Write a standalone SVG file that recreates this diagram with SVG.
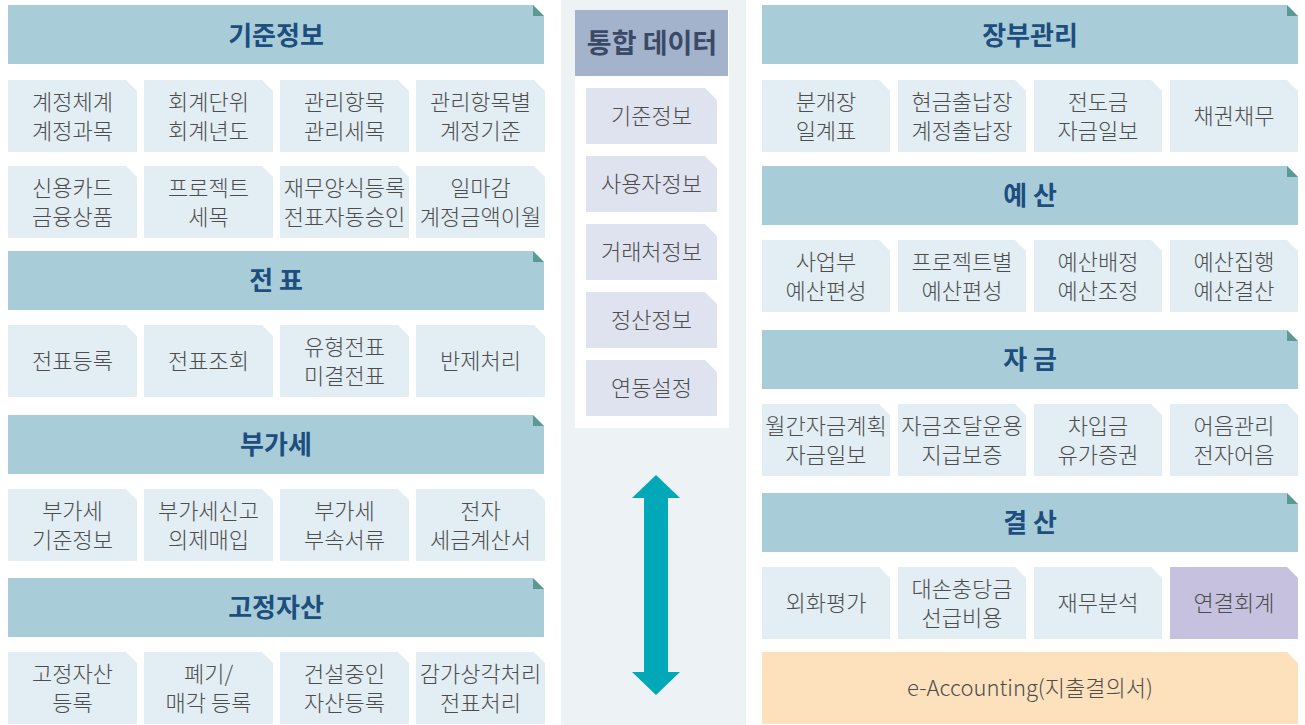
<svg xmlns="http://www.w3.org/2000/svg" width="1305" height="725" viewBox="0 0 1305 725">
<style>
.hd{fill:#a9cdd8}
.fold{fill:#5b9a92}
.bx{fill:#e2eef3}
.mi{fill:#dfe3ef}
.ht{font-family:"Noto Sans CJK KR","Noto Sans",sans-serif;font-size:26px;font-weight:700;fill:#1d4e7e;text-anchor:middle}
.t{font-family:"Noto Sans CJK KR","Noto Sans",sans-serif;font-size:22px;font-weight:300;fill:#4d4d4d;text-anchor:middle}
</style>
<rect width="1305" height="725" fill="#ffffff"/>
<rect x="561" y="0" width="185" height="725" fill="#edf2f5"/>
<rect x="575" y="10" width="154" height="418" fill="#ffffff"/>

<!-- Left column -->
<g id="h-gijun"><polygon class="hd" points="8,5 533,5 544,16 544,64 8,64"/><polygon class="fold" points="533,5 544,16 533,16"/><text class="ht" x="276" y="45">기준정보</text></g>
<g id="n-l1"><polygon class="bx" points="8,80 126,80 137,91 137,152 8,152"/><text class="t" x="72.5" y="109.5">계정체계</text><text class="t" x="72.5" y="138.5">계정과목</text></g>
<g id="n-l2"><polygon class="bx" points="144,80 262,80 273,91 273,152 144,152"/><text class="t" x="208.5" y="109.5">회계단위</text><text class="t" x="208.5" y="138.5">회계년도</text></g>
<g id="n-l3"><polygon class="bx" points="280,80 398,80 409,91 409,152 280,152"/><text class="t" x="344.5" y="109.5">관리항목</text><text class="t" x="344.5" y="138.5">관리세목</text></g>
<g id="n-l4"><polygon class="bx" points="416,80 534,80 545,91 545,152 416,152"/><text class="t" x="480.5" y="109.5">관리항목별</text><text class="t" x="480.5" y="138.5">계정기준</text></g>
<g id="n-l5"><polygon class="bx" points="8,166 126,166 137,177 137,238 8,238"/><text class="t" x="72.5" y="195.5">신용카드</text><text class="t" x="72.5" y="224.5">금융상품</text></g>
<g id="n-l6"><polygon class="bx" points="144,166 262,166 273,177 273,238 144,238"/><text class="t" x="208.5" y="195.5">프로젝트</text><text class="t" x="208.5" y="224.5">세목</text></g>
<g id="n-l7"><polygon class="bx" points="280,166 398,166 409,177 409,238 280,238"/><text class="t" x="344.5" y="195.5">재무양식등록</text><text class="t" x="344.5" y="224.5">전표자동승인</text></g>
<g id="n-l8"><polygon class="bx" points="416,166 534,166 545,177 545,238 416,238"/><text class="t" x="480.5" y="195.5">일마감</text><text class="t" x="480.5" y="224.5">계정금액이월</text></g>

<g id="h-jeonpyo"><polygon class="hd" points="8,251 533,251 544,262 544,310 8,310"/><polygon class="fold" points="533,251 544,262 533,262"/><text class="ht" x="276" y="290">전 표</text></g>
<g id="n-l9"><polygon class="bx" points="8,325 126,325 137,336 137,397 8,397"/><text class="t" x="72.5" y="369">전표등록</text></g>
<g id="n-l10"><polygon class="bx" points="144,325 262,325 273,336 273,397 144,397"/><text class="t" x="208.5" y="369">전표조회</text></g>
<g id="n-l11"><polygon class="bx" points="280,325 398,325 409,336 409,397 280,397"/><text class="t" x="344.5" y="354.5">유형전표</text><text class="t" x="344.5" y="383.5">미결전표</text></g>
<g id="n-l12"><polygon class="bx" points="416,325 534,325 545,336 545,397 416,397"/><text class="t" x="480.5" y="369">반제처리</text></g>

<g id="h-vat"><polygon class="hd" points="8,415 533,415 544,426 544,474 8,474"/><polygon class="fold" points="533,415 544,426 533,426"/><text class="ht" x="276" y="454">부가세</text></g>
<g id="n-l13"><polygon class="bx" points="8,489 126,489 137,500 137,561 8,561"/><text class="t" x="72.5" y="518.5">부가세</text><text class="t" x="72.5" y="547.5">기준정보</text></g>
<g id="n-l14"><polygon class="bx" points="144,489 262,489 273,500 273,561 144,561"/><text class="t" x="208.5" y="518.5">부가세신고</text><text class="t" x="208.5" y="547.5">의제매입</text></g>
<g id="n-l15"><polygon class="bx" points="280,489 398,489 409,500 409,561 280,561"/><text class="t" x="344.5" y="518.5">부가세</text><text class="t" x="344.5" y="547.5">부속서류</text></g>
<g id="n-l16"><polygon class="bx" points="416,489 534,489 545,500 545,561 416,561"/><text class="t" x="480.5" y="518.5">전자</text><text class="t" x="480.5" y="547.5">세금계산서</text></g>

<g id="h-asset"><polygon class="hd" points="8,578 533,578 544,589 544,637 8,637"/><polygon class="fold" points="533,578 544,589 533,589"/><text class="ht" x="276" y="617">고정자산</text></g>
<g id="n-l17"><polygon class="bx" points="8,652 126,652 137,663 137,724 8,724"/><text class="t" x="72.5" y="681.5">고정자산</text><text class="t" x="72.5" y="710.5">등록</text></g>
<g id="n-l18"><polygon class="bx" points="144,652 262,652 273,663 273,724 144,724"/><text class="t" x="208.5" y="681.5">폐기/</text><text class="t" x="208.5" y="710.5">매각 등록</text></g>
<g id="n-l19"><polygon class="bx" points="280,652 398,652 409,663 409,724 280,724"/><text class="t" x="344.5" y="681.5">건설중인</text><text class="t" x="344.5" y="710.5">자산등록</text></g>
<g id="n-l20"><polygon class="bx" points="416,652 534,652 545,663 545,724 416,724"/><text class="t" x="480.5" y="681.5">감가상각처리</text><text class="t" x="480.5" y="710.5">전표처리</text></g>

<!-- Middle column -->
<g id="h-integrated"><rect x="575" y="10" width="153" height="66" fill="#a3b3cc"/><text x="652" y="53" font-family="&quot;Noto Sans CJK KR&quot;,&quot;Noto Sans&quot;,sans-serif" font-size="27" font-weight="700" fill="#3a4a66" text-anchor="middle">통합 데이터</text></g>
<g id="n-m1"><polygon class="mi" points="586,88 705,88 717,100 717,144 586,144"/><text class="t" x="651.5" y="124">기준정보</text></g>
<g id="n-m2"><polygon class="mi" points="586,156 705,156 717,168 717,212 586,212"/><text class="t" x="651.5" y="192">사용자정보</text></g>
<g id="n-m3"><polygon class="mi" points="586,224 705,224 717,236 717,280 586,280"/><text class="t" x="651.5" y="260">거래처정보</text></g>
<g id="n-m4"><polygon class="mi" points="586,292 705,292 717,304 717,348 586,348"/><text class="t" x="651.5" y="328">정산정보</text></g>
<g id="n-m5"><polygon class="mi" points="586,360 705,360 717,372 717,416 586,416"/><text class="t" x="651.5" y="396">연동설정</text></g>

<!-- Right column -->
<g id="h-ledger"><polygon class="hd" points="762,5 1287,5 1298,16 1298,64 762,64"/><polygon class="fold" points="1287,5 1298,16 1287,16"/><text class="ht" x="1030" y="45">장부관리</text></g>
<g id="n-r1"><polygon class="bx" points="762,80 879,80 890,91 890,152 762,152"/><text class="t" x="826" y="109.5">분개장</text><text class="t" x="826" y="138.5">일계표</text></g>
<g id="n-r2"><polygon class="bx" points="898,80 1015,80 1026,91 1026,152 898,152"/><text class="t" x="962" y="109.5">현금출납장</text><text class="t" x="962" y="138.5">계정출납장</text></g>
<g id="n-r3"><polygon class="bx" points="1034,80 1151,80 1162,91 1162,152 1034,152"/><text class="t" x="1098" y="109.5">전도금</text><text class="t" x="1098" y="138.5">자금일보</text></g>
<g id="n-r4"><polygon class="bx" points="1170,80 1287,80 1298,91 1298,152 1170,152"/><text class="t" x="1234" y="124">채권채무</text></g>

<g id="h-budget"><polygon class="hd" points="762,166 1287,166 1298,177 1298,225 762,225"/><polygon class="fold" points="1287,166 1298,177 1287,177"/><text class="ht" x="1030" y="205">예 산</text></g>
<g id="n-r5"><polygon class="bx" points="762,240 879,240 890,251 890,312 762,312"/><text class="t" x="826" y="269.5">사업부</text><text class="t" x="826" y="298.5">예산편성</text></g>
<g id="n-r6"><polygon class="bx" points="898,240 1015,240 1026,251 1026,312 898,312"/><text class="t" x="962" y="269.5">프로젝트별</text><text class="t" x="962" y="298.5">예산편성</text></g>
<g id="n-r7"><polygon class="bx" points="1034,240 1151,240 1162,251 1162,312 1034,312"/><text class="t" x="1098" y="269.5">예산배정</text><text class="t" x="1098" y="298.5">예산조정</text></g>
<g id="n-r8"><polygon class="bx" points="1170,240 1287,240 1298,251 1298,312 1170,312"/><text class="t" x="1234" y="269.5">예산집행</text><text class="t" x="1234" y="298.5">예산결산</text></g>

<g id="h-fund"><polygon class="hd" points="762,330 1287,330 1298,341 1298,389 762,389"/><polygon class="fold" points="1287,330 1298,341 1287,341"/><text class="ht" x="1030" y="369">자 금</text></g>
<g id="n-r9"><polygon class="bx" points="762,404 879,404 890,415 890,476 762,476"/><text class="t" x="826" y="433.5">월간자금계획</text><text class="t" x="826" y="462.5">자금일보</text></g>
<g id="n-r10"><polygon class="bx" points="898,404 1015,404 1026,415 1026,476 898,476"/><text class="t" x="962" y="433.5">자금조달운용</text><text class="t" x="962" y="462.5">지급보증</text></g>
<g id="n-r11"><polygon class="bx" points="1034,404 1151,404 1162,415 1162,476 1034,476"/><text class="t" x="1098" y="433.5">차입금</text><text class="t" x="1098" y="462.5">유가증권</text></g>
<g id="n-r12"><polygon class="bx" points="1170,404 1287,404 1298,415 1298,476 1170,476"/><text class="t" x="1234" y="433.5">어음관리</text><text class="t" x="1234" y="462.5">전자어음</text></g>

<g id="h-closing"><polygon class="hd" points="762,493 1287,493 1298,504 1298,552 762,552"/><polygon class="fold" points="1287,493 1298,504 1287,504"/><text class="ht" x="1030" y="532">결 산</text></g>
<g id="n-r13"><polygon class="bx" points="762,567 879,567 890,578 890,639 762,639"/><text class="t" x="826" y="611">외화평가</text></g>
<g id="n-r14"><polygon class="bx" points="898,567 1015,567 1026,578 1026,639 898,639"/><text class="t" x="962" y="596.5">대손충당금</text><text class="t" x="962" y="625.5">선급비용</text></g>
<g id="n-r15"><polygon class="bx" points="1034,567 1151,567 1162,578 1162,639 1034,639"/><text class="t" x="1098" y="611">재무분석</text></g>
<g id="n-r16"><polygon points="1170,567 1287,567 1298,578 1298,639 1170,639" fill="#c6c1df"/><text class="t" x="1234" y="611">연결회계</text></g>
<g id="n-eacc"><polygon points="762,652 1287,652 1298,663 1298,724 762,724" fill="#fde1bd"/><text class="t" x="1030" y="696">e-Accounting(지출결의서)</text></g>

<!-- Connectors -->
<g id="connectors">
<path d="M656,475 L680,498 L668,498 L668,672 L680,672 L656,695 L632,672 L644,672 L644,498 L632,498 Z" fill="#00a8b8"/>
</g>
</svg>
